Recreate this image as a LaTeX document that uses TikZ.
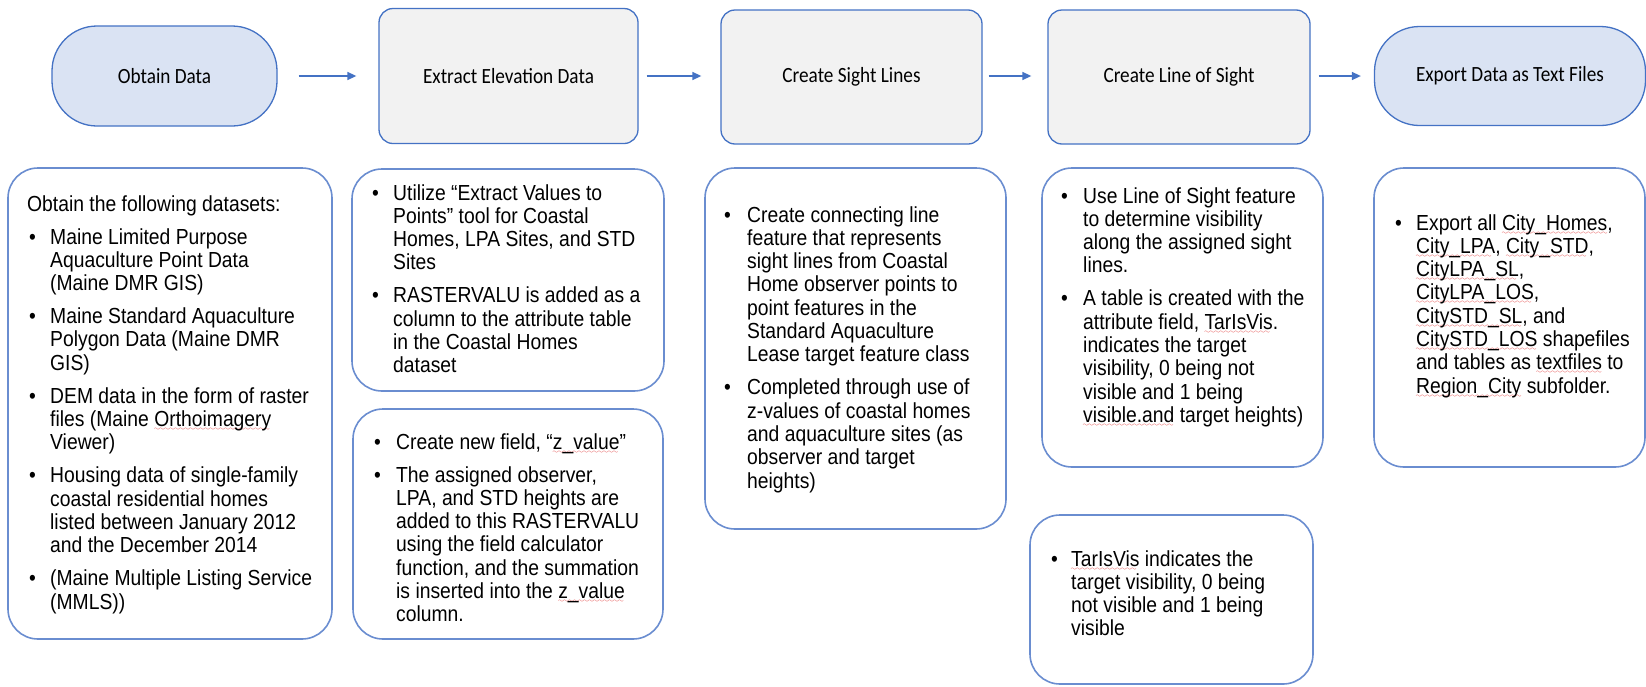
\documentclass[tikz,border=0pt]{standalone}
\usepackage{fontspec}
\setmainfont{Liberation Sans}[FakeStretch=0.886]
\newfontfamily\calfont{Carlito}[FakeStretch=0.886]
\usetikzlibrary{arrows.meta}
\definecolor{bord}{HTML}{4472C4}
\definecolor{cardbord}{HTML}{6A8DD0}
\definecolor{lblue}{HTML}{DAE3F3}
\definecolor{lgray}{HTML}{F2F2F2}
\definecolor{sqred}{HTML}{E02020}
\font\wavefont=lasy6
\newsavebox\sqbox
\newcommand\sq[1]{\sbox\sqbox{#1}\rlap{\smash{\color{sqred}\lower4pt\hbox to \wd\sqbox{\leaders\hbox{\wavefont\char58}\hfill}}}\usebox\sqbox}
\newcommand\bodyfont{\fontsize{21.8}{23.3}\selectfont}
\newcommand\headfont{\calfont\fontsize{21.7}{26}\selectfont}
\newcommand\pg{\\[9.7pt]}
\tikzset{
  term/.style={draw=bord, fill=lblue, line width=1.3pt, rounded corners=45pt, font=\headfont, inner sep=0pt},
  proc/.style={draw=bord, fill=lgray, line width=1.3pt, rounded corners=14pt, font=\headfont, inner sep=0pt},
  card/.style={draw=cardbord, fill=white, line width=1.6pt, rounded corners=30pt, inner sep=0pt},
  txt/.style={anchor=base west, inner sep=0pt, font=\bodyfont},
  flow/.style={draw=bord, line width=1.5pt, -{Triangle[length=9pt,width=8pt]}},
}
\begin{document}
\begin{tikzpicture}[x=1pt,y=-1pt]
\useasboundingbox (0,0) rectangle (1646,686);
% top row
\node[term, minimum width=225pt, minimum height=100pt] (od) at (164.5,76) {Obtain Data};
\node[proc, minimum width=259pt, minimum height=135pt] (ee) at (508.5,76) {Extract Elevation Data};
\node[proc, minimum width=261pt, minimum height=134pt] (csl) at (851.5,77) {Create Sight Lines};
\node[proc, minimum width=262pt, minimum height=134pt] (clos) at (1179,77) {Create Line of Sight};
\node[term, minimum width=271pt, minimum height=99pt] (exp) at (1510,76) {Export Data as Text Files};
\draw[flow, shorten <=21pt, shorten >=22pt] (od.east) -- (od.east -| ee.west);
\draw[flow, shorten <=8pt, shorten >=19pt] (ee.east) -- (ee.east -| csl.west);
\draw[flow, shorten <=6pt, shorten >=16pt] (csl.east |- ee.east) -- (ee.east -| clos.west);
\draw[flow, shorten <=8pt, shorten >=13pt] (clos.east |- ee.east) -- (ee.east -| exp.west);
% bottom cards
\node[card, minimum width=324pt, minimum height=471pt] (b1) at (170,403.5) {};
\node[card, minimum width=312pt, minimum height=222pt] (b2a) at (508,280) {};
\node[card, minimum width=310pt, minimum height=230pt] (b2b) at (508,524) {};
\node[card, minimum width=301pt, minimum height=361pt] (b3) at (855.5,348.5) {};
\node[card, minimum width=281pt, minimum height=299pt] (b4) at (1182.5,317.5) {};
\node[card, minimum width=271pt, minimum height=299pt] (b5) at (1509.5,317.5) {};
\node[card, minimum width=283pt, minimum height=169pt] (b6) at (1171.5,599.5) {};
% texts
\node[txt] (t1) at (29,211) {\begin{tabular}[t]{@{}p{21pt}@{}l@{}}
\multicolumn{2}{@{}l@{}}{\hspace*{-2pt}Obtain the following datasets:}\pg
\textbullet & Maine Limited Purpose\\
 & Aquaculture Point Data\\
 & (Maine DMR GIS)\pg
\textbullet & Maine Standard Aquaculture\\
 & Polygon Data (Maine DMR\\
 & GIS)\pg
\textbullet & DEM data in the form of raster\\
 & files (Maine \sq{Orthoimagery}\\
 & Viewer)\pg
\textbullet & Housing data of single-family\\
 & coastal residential homes\\
 & listed between January 2012\\
 & and the December 2014\pg
\textbullet & (Maine Multiple Listing Service\\
 & (MMLS))
\end{tabular}};
\node[txt] (t2a) at (372,200) {\begin{tabular}[t]{@{}p{21pt}@{}l@{}}
\textbullet & Utilize “Extract Values to\\
 & Points” tool for Coastal\\
 & Homes, LPA Sites, and STD\\
 & Sites\pg
\textbullet & RASTERVALU is added as a\\
 & column to the attribute table\\
 & in the Coastal Homes\\
 & dataset
\end{tabular}};
\node[txt] (t2b) at (374,449) {\begin{tabular}[t]{@{}p{22pt}@{}l@{}}
\textbullet & Create new field, “\sq{z\_value}”\pg
\textbullet & The assigned observer,\\
 & LPA, and STD heights are\\
 & added to this RASTERVALU\\
 & using the field calculator\\
 & function, and the summation\\
 & is inserted into the \sq{z\_value}\\
 & column.
\end{tabular}};
\node[txt] (t3) at (724,222) {\begin{tabular}[t]{@{}p{23pt}@{}l@{}}
\textbullet & Create connecting line\\
 & feature that represents\\
 & sight lines from Coastal\\
 & Home observer points to\\
 & point features in the\\
 & Standard Aquaculture\\
 & Lease target feature class\pg
\textbullet & Completed through use of\\
 & z-values of coastal homes\\
 & and aquaculture sites (as\\
 & observer and target\\
 & heights)
\end{tabular}};
\node[txt] (t4) at (1061,203) {\begin{tabular}[t]{@{}p{22pt}@{}l@{}}
\textbullet & Use Line of Sight feature\\
 & to determine visibility\\
 & along the assigned sight\\
 & lines.\pg
\textbullet & A table is created with the\\
 & attribute field, \sq{TarIsVis}.\\
 & indicates the target\\
 & visibility, 0 being not\\
 & visible and 1 being\\
 & \sq{visible.and} target heights)
\end{tabular}};
\node[txt] (t5) at (1395,230) {\begin{tabular}[t]{@{}p{21pt}@{}l@{}}
\textbullet & Export all \sq{City\_Homes},\\
 & \sq{City\_LPA}, \sq{City\_STD},\\
 & \sq{CityLPA\_SL},\\
 & \sq{CityLPA\_LOS},\\
 & \sq{CitySTD\_SL}, and\\
 & \sq{CitySTD\_LOS} shapefiles\\
 & and tables as \sq{textfiles} to\\
 & \sq{Region\_City} subfolder.
\end{tabular}};
\node[txt] (t6) at (1051,566) {\begin{tabular}[t]{@{}p{20pt}@{}l@{}}
\textbullet & \sq{TarIsVis} indicates the\\
 & target visibility, 0 being\\
 & not visible and 1 being\\
 & visible
\end{tabular}};
\end{tikzpicture}
\end{document}
